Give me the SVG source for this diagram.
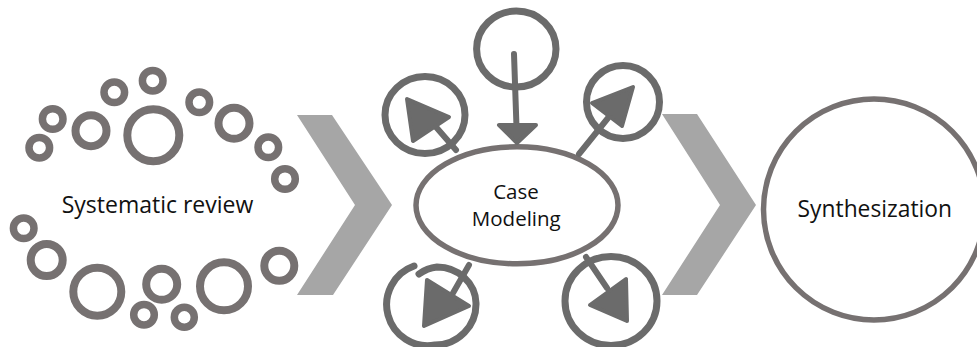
<svg xmlns="http://www.w3.org/2000/svg" width="977" height="347" viewBox="0 0 977 347">
<style>
  .bub { fill: none; stroke: #767171; stroke-width: 7.5; }
  .bubm { fill: none; stroke: #767171; stroke-width: 8; }
  .chev { fill: #a6a6a6; }
  .loop { fill: none; stroke: #6b6b6b; stroke-width: 7; stroke-linecap: round; }
  .shaft { fill: none; stroke: #6b6b6b; stroke-width: 6; stroke-linecap: round; }
  .head { fill: #6b6b6b; stroke: #6b6b6b; stroke-width: 4; stroke-linejoin: round; }
  .lbl { font-family: "Open Sans", "Liberation Sans", sans-serif; fill: #111; text-anchor: middle; }
</style>
<rect width="977" height="347" fill="#ffffff"/>

<g id="systematic-review">
  <circle class="bub" cx="39.3" cy="147.7" r="10.3"/>
  <circle class="bub" cx="52.7" cy="119" r="10.3"/>
  <circle class="bubm" cx="91" cy="130.7" r="15.5"/>
  <circle class="bub" cx="114.3" cy="92.3" r="10.3"/>
  <circle class="bub" cx="152.7" cy="80.7" r="10.3"/>
  <circle class="bubm" cx="153.3" cy="135.3" r="26"/>
  <circle class="bub" cx="199.3" cy="102.3" r="10.3"/>
  <circle class="bubm" cx="234" cy="123.3" r="15.5"/>
  <circle class="bub" cx="268.3" cy="147.3" r="10.3"/>
  <circle class="bub" cx="285" cy="179" r="10.3"/>
  <circle class="bub" cx="23.7" cy="228.3" r="10.3"/>
  <circle class="bubm" cx="46.7" cy="260" r="16"/>
  <circle class="bubm" cx="97.3" cy="291.7" r="24"/>
  <circle class="bubm" cx="161.7" cy="284.3" r="15.5"/>
  <circle class="bub" cx="144" cy="314.7" r="10.3"/>
  <circle class="bub" cx="184.3" cy="317.3" r="10"/>
  <circle class="bubm" cx="224" cy="286.3" r="24"/>
  <circle class="bubm" cx="279.3" cy="265.7" r="15"/>
  <text class="lbl" x="157.5" y="213" font-size="23">Systematic review</text>
</g>

<g id="chevron-1">
  <polygon class="chev" points="297,115 332,115 392,205 333,295 297,295 355,205"/>
</g>

<g id="chevron-2">
  <polygon class="chev" points="662,114 697,114 756,205 697,295 662,295 720,205"/>
</g>

<g id="satellite-top">
  <ellipse class="loop" cx="516.3" cy="49" rx="39.7" ry="38" stroke-width="8"/>
</g>
<g id="satellite-top-left">
  <ellipse class="loop" cx="425" cy="115" rx="40" ry="38.5"/>
</g>
<g id="satellite-top-right">
  <ellipse class="loop" cx="623" cy="102" rx="36.5" ry="36.5"/>
</g>
<g id="satellite-bottom-left">
  <path class="loop" d="M 414,266 A 41 41 0 0 0 435,345 A 41 41 0 0 0 476,303 A 39 37 0 0 0 437,267 A 36 36 0 0 0 419,274"/>
</g>
<g id="satellite-bottom-right">
  <ellipse class="loop" cx="611" cy="301" rx="46" ry="44.5" stroke-width="10"/>
</g>

<g id="case-modeling">
  <ellipse cx="517" cy="205.3" rx="101" ry="58.5" fill="#ffffff" stroke="#767171" stroke-width="5.5"/>
  <text class="lbl" x="516" y="199" font-size="20.5">Case</text>
  <text class="lbl" x="516.3" y="226" font-size="20.5">Modeling</text>
</g>

<g id="synthesization">
  <circle cx="874" cy="209.5" r="110.5" fill="#ffffff" stroke="#767171" stroke-width="5.5"/>
  <text class="lbl" x="874.8" y="217" font-size="22.8">Synthesization</text>
</g>

<g id="connectors">
  <line class="shaft" x1="514" y1="54" x2="516.5" y2="127"/>
  <polygon class="head" points="499,125 536,125 517,143"/>
  <line class="shaft" x1="456" y1="150" x2="436" y2="127"/>
  <polygon class="head" points="407,99 449,117 413,141"/>
  <line class="shaft" x1="579" y1="154" x2="608" y2="118"/>
  <polygon class="head" points="592,103 633,87 622,126"/>
  <line class="shaft" x1="469" y1="265" x2="453" y2="293"/>
  <polygon class="head" points="427,280 469,306 424,326"/>
  <line class="shaft" x1="586" y1="257" x2="607" y2="288"/>
  <polygon class="head" points="590,305 626,279 627,321"/>
</g>
</svg>
